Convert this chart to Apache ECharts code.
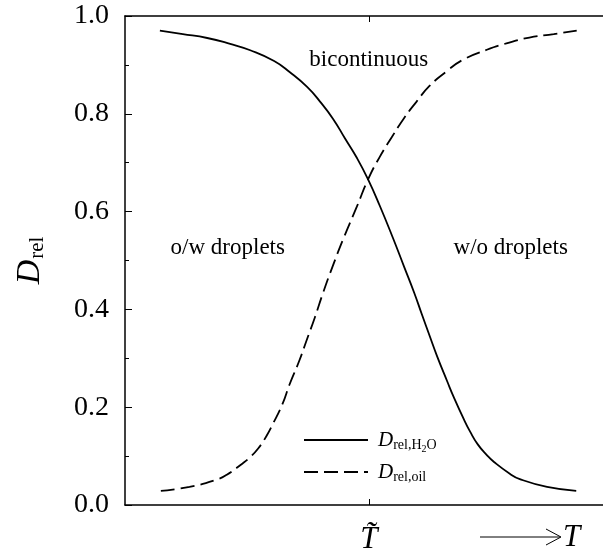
<!DOCTYPE html>
<html>
<head>
<meta charset="utf-8">
<script src="https://cdn.jsdelivr.net/npm/echarts@6/dist/echarts.min.js"></script>
<style>
  html, body { margin: 0; padding: 0; background: #fff; }
  #chart { width: 603px; height: 555px; }
</style>
</head>
<body>
<div id="chart"></div>
<script>
// Relative diffusion coefficients vs. temperature (arbitrary T units, T~ at 51)
const tH2O = [7.3, 12.1, 17.2, 22.0, 26.2, 31.2, 34.5, 38.1, 40.8, 43.5, 46.0, 48.5, 50.8, 53.3, 56.1, 58.4, 60.5, 62.1, 63.8, 65.3, 67.4, 68.8, 70.9, 72.2, 73.8, 75.7, 77.2, 80.5, 82.6, 88.3, 94.4];
const dH2O = [0.970, 0.963, 0.955, 0.943, 0.930, 0.908, 0.885, 0.855, 0.825, 0.790, 0.750, 0.710, 0.667, 0.612, 0.545, 0.487, 0.434, 0.390, 0.344, 0.304, 0.253, 0.220, 0.175, 0.150, 0.124, 0.102, 0.088, 0.064, 0.053, 0.037, 0.029];

const tOil = [7.5, 13.5, 19.2, 21.3, 24.6, 26.1, 27.9, 29.6, 30.9, 33.0, 34.4, 36.5, 38.0, 39.7, 41.3, 43.4, 45.7, 48.5, 50.9, 53.3, 55.8, 58.3, 61.0, 63.7, 67.3, 70.6, 75.7, 79.8, 84.6, 89.7, 94.5];
const dOil = [0.029, 0.037, 0.052, 0.062, 0.085, 0.097, 0.116, 0.141, 0.165, 0.208, 0.246, 0.296, 0.337, 0.383, 0.430, 0.487, 0.545, 0.610, 0.667, 0.712, 0.752, 0.790, 0.825, 0.857, 0.887, 0.910, 0.931, 0.944, 0.956, 0.963, 0.970];

const yTicks = [0, 0.2, 0.4, 0.6, 0.8, 1.0];
const tTilde = 51;

// Region labels placed in data coordinates
const regionLabels = [
  { text: 'bicontinuous', t: 51.0, d: 0.91 },
  { text: 'o/w droplets', t: 21.5, d: 0.525 },
  { text: 'w/o droplets', t: 80.7, d: 0.525 }
];

const SERIF = '"Liberation Serif", "Times New Roman", serif';

const chart = echarts.init(document.getElementById('chart'));

function pairs(xs, ys) { return xs.map((x, i) => [x, ys[i]]); }

const option = {
  animation: false,
  backgroundColor: '#fff',
  textStyle: { fontFamily: SERIF, color: '#000' },
  grid: { left: 125, right: 0, top: 16, bottom: 50, containLabel: false },
  xAxis: [{
    type: 'value', min: 0, max: 100, position: 'bottom',
    axisLine: { show: true, lineStyle: { color: '#000', width: 1.5 } },
    axisTick: { show: true, inside: true, length: 6, lineStyle: { color: '#000', width: 1 }, customValues: [tTilde] },
    axisLabel: {
      show: true, customValues: [tTilde], margin: 19,
      formatter: () => '{t|T\u0303}',
      rich: { t: { fontFamily: SERIF, fontStyle: 'italic', fontSize: 31, color: '#000' } }
    },
    splitLine: { show: false }
  }, {
    type: 'value', min: 0, max: 100, position: 'top',
    axisLine: { show: true, lineStyle: { color: '#000', width: 1.5 } },
    axisTick: { show: true, inside: true, length: 6, lineStyle: { color: '#000', width: 1 }, customValues: [tTilde] },
    axisLabel: { show: false },
    splitLine: { show: false }
  }],
  yAxis: {
    type: 'value', min: 0, max: 1, interval: 0.2,
    axisLine: { show: true, lineStyle: { color: '#000', width: 1.5 } },
    axisTick: { show: true, inside: true, length: 7, lineStyle: { color: '#000', width: 1 } },
    minorTick: { show: true, splitNumber: 2, length: 4, lineStyle: { color: '#000', width: 1 } },
    axisLabel: {
      margin: 16, fontFamily: SERIF, fontSize: 28, color: '#000',
      formatter: v => v.toFixed(1)
    },
    splitLine: { show: false },
    name: '{d|D}{s|rel}',
    nameLocation: 'middle', nameRotate: 90, nameGap: 77,
    nameTextStyle: {
      rich: {
        d: { fontFamily: SERIF, fontStyle: 'italic', fontSize: 34, color: '#000', lineHeight: 36 },
        s: { fontFamily: SERIF, fontSize: 21, color: '#000', lineHeight: 21, padding: [15, 0, 0, 1] }
      }
    }
  },
  legend: {
    orient: 'vertical', left: 298, top: 421,
    itemWidth: 64, itemHeight: 14, itemGap: 6,
    itemStyle: { opacity: 0 },
    data: ['H2O', 'oil'],
    formatter: name => name === 'H2O'
      ? '{d|D}{s|rel,H}{ss|2}{s|O}'
      : '{d|D}{s|rel,oil}',
    textStyle: {
      padding: [0, 0, 0, 5],
      rich: {
        d: { fontFamily: SERIF, fontStyle: 'italic', fontSize: 21, color: '#000', lineHeight: 22 },
        s: { fontFamily: SERIF, fontSize: 14, color: '#000', lineHeight: 14, padding: [10, 0, 0, 0] },
        ss: { fontFamily: SERIF, fontSize: 10, color: '#000', lineHeight: 10, padding: [18, 0, 0, 0] }
      }
    }
  },
  series: [{
    name: 'H2O', type: 'line', xAxisIndex: 0,
    data: pairs(tH2O, dH2O),
    smooth: 0.5, showSymbol: false, symbol: 'none',
    lineStyle: { color: '#000', width: 1.8, type: 'solid' },
    itemStyle: { color: '#000' }
  }, {
    name: 'oil', type: 'line', xAxisIndex: 0,
    data: pairs(tOil, dOil),
    smooth: 0.5, showSymbol: false, symbol: 'none',
    lineStyle: { color: '#000', width: 1.8, type: [14, 6] },
    itemStyle: { color: '#000' }
  }]
};

chart.setOption(option);

// Region labels and the temperature arrow
const graphics = regionLabels.map(l => {
  const p = chart.convertToPixel({ xAxisIndex: 0, yAxisIndex: 0 }, [l.t, l.d]);
  return {
    type: 'text', x: p[0], y: p[1],
    style: { text: l.text, font: '23px ' + SERIF, fill: '#000', align: 'center', verticalAlign: 'middle' }
  };
});
graphics.push(
  { type: 'line', shape: { x1: 480, y1: 537, x2: 560, y2: 537 }, style: { stroke: '#000', lineWidth: 1 } },
  { type: 'polyline', shape: { points: [[546, 529], [561, 537], [546, 545]] }, style: { stroke: '#000', lineWidth: 1, fill: null } },
  { type: 'text', x: 563, y: 538, style: { text: 'T', font: 'italic 31px ' + SERIF, fill: '#000', align: 'left', verticalAlign: 'middle' } }
);
chart.setOption({ graphic: graphics });
</script>
</body>
</html>
